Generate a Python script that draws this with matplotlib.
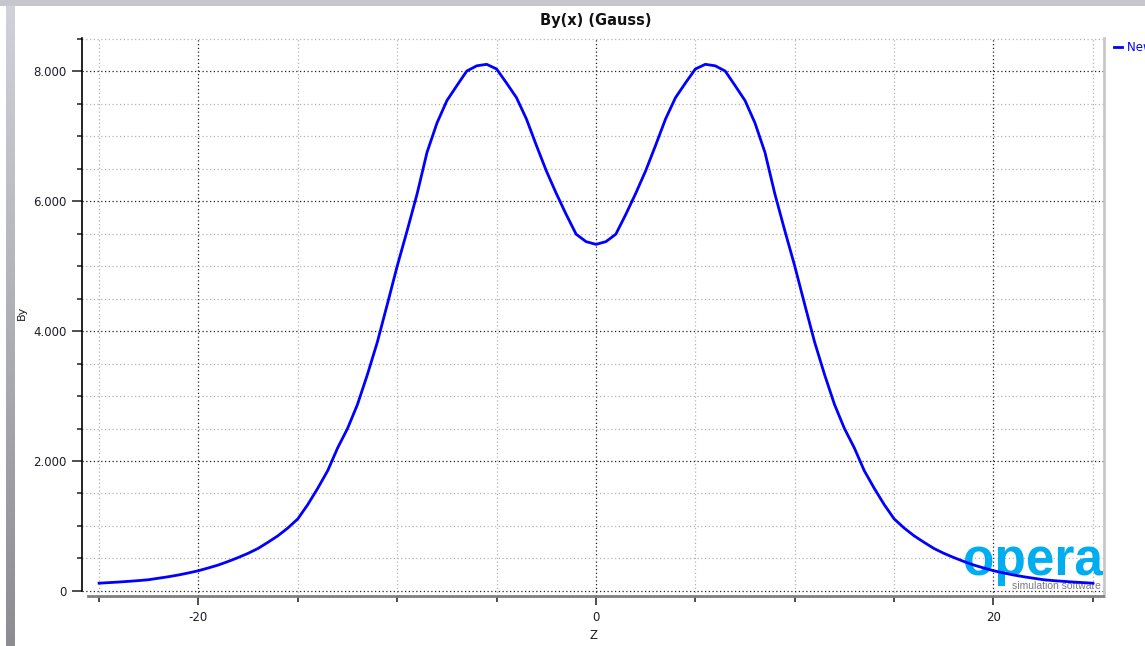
import numpy as np
import matplotlib
matplotlib.use("Agg")
import matplotlib.pyplot as plt
from matplotlib.ticker import MultipleLocator, FuncFormatter
from matplotlib.lines import Line2D

plt.rcParams["axes.unicode_minus"] = False

# field profile along z (0.5 steps)
z = [-25.0, -24.5, -24.0, -23.5, -23.0, -22.5, -22.0, -21.5, -21.0, -20.5,
     -20.0, -19.5, -19.0, -18.5, -18.0, -17.5, -17.0, -16.5, -16.0, -15.5,
     -15.0, -14.5, -14.0, -13.5, -13.0, -12.5, -12.0, -11.5, -11.0, -10.5,
     -10.0, -9.5, -9.0, -8.5, -8.0, -7.5, -7.0, -6.5, -6.0, -5.5,
     -5.0, -4.5, -4.0, -3.5, -3.0, -2.5, -2.0, -1.5, -1.0, -0.5,
     0.0, 0.5, 1.0, 1.5, 2.0, 2.5, 3.0, 3.5, 4.0, 4.5,
     5.0, 5.5, 6.0, 6.5, 7.0, 7.5, 8.0, 8.5, 9.0, 9.5,
     10.0, 10.5, 11.0, 11.5, 12.0, 12.5, 13.0, 13.5, 14.0, 14.5,
     15.0, 15.5, 16.0, 16.5, 17.0, 17.5, 18.0, 18.5, 19.0, 19.5,
     20.0, 20.5, 21.0, 21.5, 22.0, 22.5, 23.0, 23.5, 24.0, 24.5, 25.0]
by = [120, 129, 138, 149, 160, 174, 197, 220, 247, 278,
      312, 355, 400, 455, 515, 580, 655, 750, 850, 970,
      1110, 1330, 1580, 1850, 2200, 2500, 2870, 3330, 3830, 4410,
      5000, 5545, 6110, 6750, 7200, 7545, 7775, 8000, 8080, 8103,
      8031, 7815, 7590, 7262, 6857, 6465, 6118, 5794, 5490, 5375,
      5333, 5375, 5490, 5794, 6118, 6465, 6857, 7262, 7590, 7815,
      8031, 8103, 8080, 8000, 7775, 7545, 7200, 6750, 6110, 5545,
      5000, 4410, 3830, 3330, 2870, 2500, 2200, 1850, 1580, 1330,
      1110, 970, 850, 750, 655, 580, 515, 455, 400, 355,
      312, 278, 247, 220, 197, 174, 160, 149, 138, 129, 120]

W, H = 1145, 646
fig = plt.figure(figsize=(W / 100, H / 100), dpi=100)
fig.patch.set_facecolor("white")

# window chrome: grey strip on top and gradient strip on the left
top = fig.add_axes([0, 1 - 6 / H, 1, 6 / H])
top.set_facecolor("#c6c6cc")
top.set_xticks([]); top.set_yticks([])
for s in top.spines.values():
    s.set_visible(False)
side = fig.add_axes([6 / W, 0, 9 / W, 1 - 6 / H])
grad = np.linspace(0.82, 0.55, 200).reshape(-1, 1)
side.imshow(np.dstack([grad, grad, grad * 1.04]).clip(0, 1), aspect="auto")
side.set_xticks([]); side.set_yticks([])
for s in side.spines.values():
    s.set_visible(False)

ax = fig.add_axes([82 / W, 1 - 596 / H, (1104 - 82) / W, (596 - 38) / H])
ax.set_xlim(-25.86, 25.56)
ax.set_ylim(-77, 8508)

ax.plot(z, by, color="#0000ff", lw=2, zorder=4, solid_joinstyle="round")

ax.xaxis.set_major_locator(MultipleLocator(20))
ax.xaxis.set_minor_locator(MultipleLocator(5))
ax.yaxis.set_major_locator(MultipleLocator(2000))
ax.yaxis.set_minor_locator(MultipleLocator(500))
ax.yaxis.set_major_formatter(FuncFormatter(
    lambda v, p: "0" if v == 0 else f"{int(v):,}".replace(",", ".")))

ax.grid(which="minor", color="#b4b4b4", ls=(0, (1, 2)), lw=0.9, zorder=1)
ax.grid(which="major", color="#202020", ls=(0, (1, 2)), lw=0.9, zorder=1.2)
ax.set_axisbelow(True)

ax.tick_params(axis="y", which="major", length=7.2, width=1.2, color="#303030",
               pad=4, labelsize=8.5, labelcolor="#1c1c28")
ax.tick_params(axis="y", which="minor", length=3.6, width=1.2, color="#303030")
ax.tick_params(axis="x", which="major", length=6.5, width=1.2, color="#303030",
               pad=4, labelsize=8.5, labelcolor="#1c1c28")
ax.tick_params(axis="x", which="minor", length=4, width=1.2, color="#303030")

ax.spines["top"].set_visible(False)
ax.spines["left"].set_color("black")
ax.spines["left"].set_linewidth(1.2)
ax.spines["left"].set_bounds(0, 8508)
ax.spines["bottom"].set_color("#808080")
ax.spines["bottom"].set_linewidth(2)
ax.spines["bottom"].set_bounds(-25.57, 25.5)
ax.spines["right"].set_color("#c8c8c8")
ax.spines["right"].set_linewidth(2)

ax.set_xlabel("Z", fontsize=8.5, labelpad=4, color="#1c1c28")
ax.set_ylabel("By", fontsize=8, color="#1c1c28")
ax.yaxis.set_label_coords(27 / W, 1 - 313 / H, transform=fig.transFigure)

fig.text(596 / W, 1 - 21 / H, "By(x) (Gauss)", ha="center", va="center",
         fontsize=10.5, fontweight="bold", color="#111111")

# legend entry (cut by the right edge)
fig.add_artist(Line2D([1114 / W, 1122 / W], [1 - 47 / H, 1 - 47 / H],
                      color="#0000ff", lw=2))
fig.text(1127 / W, 1 - 47 / H, "New Graph", ha="left", va="center",
         fontsize=8.5, color="#0000ff")

# opera logo, under the curve
ax.text(1103 / W, 1 - 575 / H, "opera", transform=fig.transFigure,
        ha="right", va="baseline", fontsize=37, fontweight="bold",
        family="Liberation Sans", color="#00aeef", zorder=2)
ax.text(1101 / W, 1 - 589 / H, "simulation software", transform=fig.transFigure,
        ha="right", va="baseline", fontsize=7.5, family="Liberation Sans",
        color="#7a7a7a", zorder=2)

fig.savefig("out.png", dpi=100)
